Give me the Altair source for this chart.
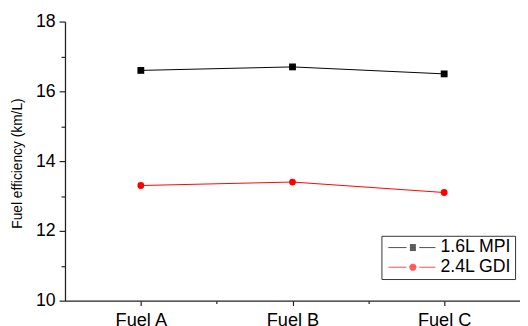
import json
import math
import altair as alt
import pandas as pd

fuels = ["Fuel A", "Fuel B", "Fuel C"]
series_names = ["1.6L MPI", "2.4L GDI"]
mpi = [16.6, 16.7, 16.5]
gdi = [13.3, 13.4, 13.1]
colors = ["#000000", "#ff0000"]
point_shapes = ["square", "circle"]
y_ticks = [10, 11, 12, 13, 14, 15, 16, 17, 18]
x_ticks = [1, 1.5, 2, 2.5, 3]


# legend symbol paths (unit scale): line - marker - line, marker drawn with strokes
def _legend_path(kind):
    cx = 4.0
    parts = ["M-1,0 H2.7", "M5.3,0 H8.6"]
    for k in range(-4, 5):
        yy = k * 0.15
        if kind == "square":
            hw = 0.6
        else:
            hw = math.sqrt(max(0.5 - yy * yy, 0.0))
        parts.append(f"M{cx - hw:.3f},{yy:.2f} H{cx + hw:.3f}")
    return " ".join(parts)


legend_paths = [_legend_path(s) for s in point_shapes]

rows = []
for s, vals in zip(series_names, [mpi, gdi]):
    for i, (f, v) in enumerate(zip(fuels, vals)):
        rows.append({"series": s, "fuel": f, "pos": i + 1, "value": v})
df = pd.DataFrame(rows)

FONT = "Liberation Sans"
label_expr = "datum.value % 1 === 0 ? " + json.dumps([""] + fuels) + "[datum.value] : ''"

x_enc = alt.X(
    "pos:Q",
    scale=alt.Scale(domain=[0.5, 3.5], nice=False, zero=False),
    axis=alt.Axis(
        title=None,
        values=x_ticks,
        labelExpr=label_expr,
        labelFontSize=18.5,
        labelColor="#000",
        labelPadding=5,
        labelFont=FONT,
        tickSize={"condition": {"test": "datum.value % 1 === 0", "value": 5}, "value": 3},
        tickColor="#222",
        domainColor="#222",
        domainWidth=1.3,
        tickWidth=1.2,
        grid=False,
        labelOverlap=False,
    ),
)
y_enc = alt.Y(
    "value:Q",
    scale=alt.Scale(domain=[10, 18], nice=False, zero=False),
    axis=alt.Axis(
        title="Fuel efficiency (km/L)",
        values=y_ticks,
        labelExpr="datum.value % 2 === 0 ? datum.label : ''",
        labelFontSize=18,
        labelColor="#000",
        labelFont=FONT,
        labelPadding=4,
        tickSize={"condition": {"test": "datum.value % 2 === 0", "value": 6}, "value": 4},
        tickColor="#222",
        domainColor="#222",
        domainWidth=1.3,
        tickWidth=1.2,
        grid=False,
        titleFont=FONT,
        titleFontSize=14,
        titleFontWeight="normal",
        titleColor="#000",
        titleAngle=-90,
        titleAlign="center",
        titleBaseline="middle",
        titleX=-48,
        titleY=144,
        labelOverlap=False,
    ),
)

lines = alt.Chart(df).mark_line(strokeWidth=1).encode(
    x=x_enc, y=y_enc,
    stroke=alt.Stroke("series:N", scale=alt.Scale(domain=series_names, range=colors), legend=None),
    detail="series:N",
)

point_layers = []
for s, shp in zip(series_names, point_shapes):
    point_layers.append(
        alt.Chart(df[df["series"] == s]).mark_point(filled=True, size=48, opacity=1, shape=shp).encode(
            x=x_enc, y=y_enc,
            fill=alt.Fill("series:N", scale=alt.Scale(domain=series_names, range=colors), legend=None),
        )
    )

leg = alt.Legend(
    title=None,
    orient="none",
    legendX=322,
    legendY=218,
    strokeColor="#333",
    fillColor="white",
    padding=3,
    labelFontSize=18,
    labelFont=FONT,
    labelColor="#000",
    symbolSize=100,
    symbolStrokeWidth=1,
    labelOffset=39,
    rowPadding=2,
)

legend_layer = alt.Chart(df).mark_point(size=0, filled=False).encode(
    x=x_enc, y=y_enc,
    color=alt.Color("series:N", scale=alt.Scale(range=colors), legend=leg),
    shape=alt.Shape("series:N", scale=alt.Scale(range=legend_paths), legend=leg),
)

chart = (
    alt.layer(lines, *point_layers, legend_layer)
    .properties(
        width=463,
        height=284,
        padding={"left": 58, "top": 11, "right": 0, "bottom": 23},
        autosize=alt.AutoSizeParams(type="none"),
        background="white",
    )
    .configure_view(stroke=None)
)

chart.save("out.html", embed_options={"renderer": "svg", "actions": False})
